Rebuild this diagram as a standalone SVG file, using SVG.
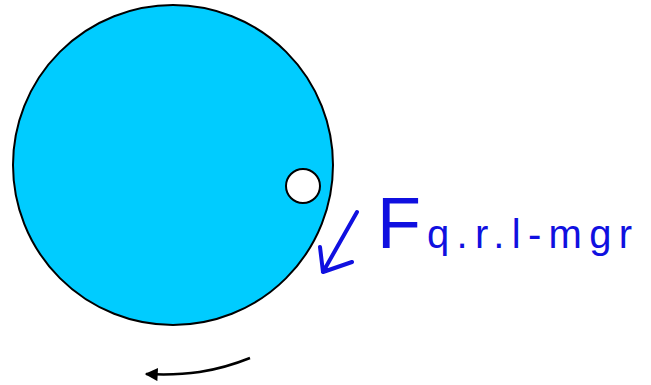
<svg xmlns="http://www.w3.org/2000/svg" width="651" height="385" viewBox="0 0 651 385">
<style>
.ink{fill:none;stroke:#1010E0;stroke-width:4;stroke-linecap:round;stroke-linejoin:round}
.hand{fill:#1010E0;font-family:"Liberation Sans",Arial,sans-serif}
</style>
<defs>
<marker id="ah" viewBox="0 0 10 10" refX="9" refY="5" markerWidth="15" markerHeight="13" markerUnits="userSpaceOnUse" orient="auto">
<path d="M0,0 L10,5 L0,10 z" fill="#000"/>
</marker>
</defs>
<g id="wheel">
<circle cx="173" cy="165" r="160" fill="#00CCFF" stroke="#000" stroke-width="2"/>
</g>
<g id="hole">
<circle cx="303" cy="186" r="17" fill="#fff" stroke="#000" stroke-width="2"/>
</g>
<g id="connectors">
<path d="M250,358 C215,372 185,376 146,374" fill="none" stroke="#000" stroke-width="2.5" marker-end="url(#ah)"/>
<path class="ink" d="M357,212 L323,272 M320,247 L323,272 L352,262"/>
</g>
<g id="label">
<text class="hand" x="377" y="248"><tspan font-size="72">F</tspan><tspan font-size="40" dx="6" textLength="205" lengthAdjust="spacing">q.r.l-mgr</tspan></text>
</g>
</svg>
